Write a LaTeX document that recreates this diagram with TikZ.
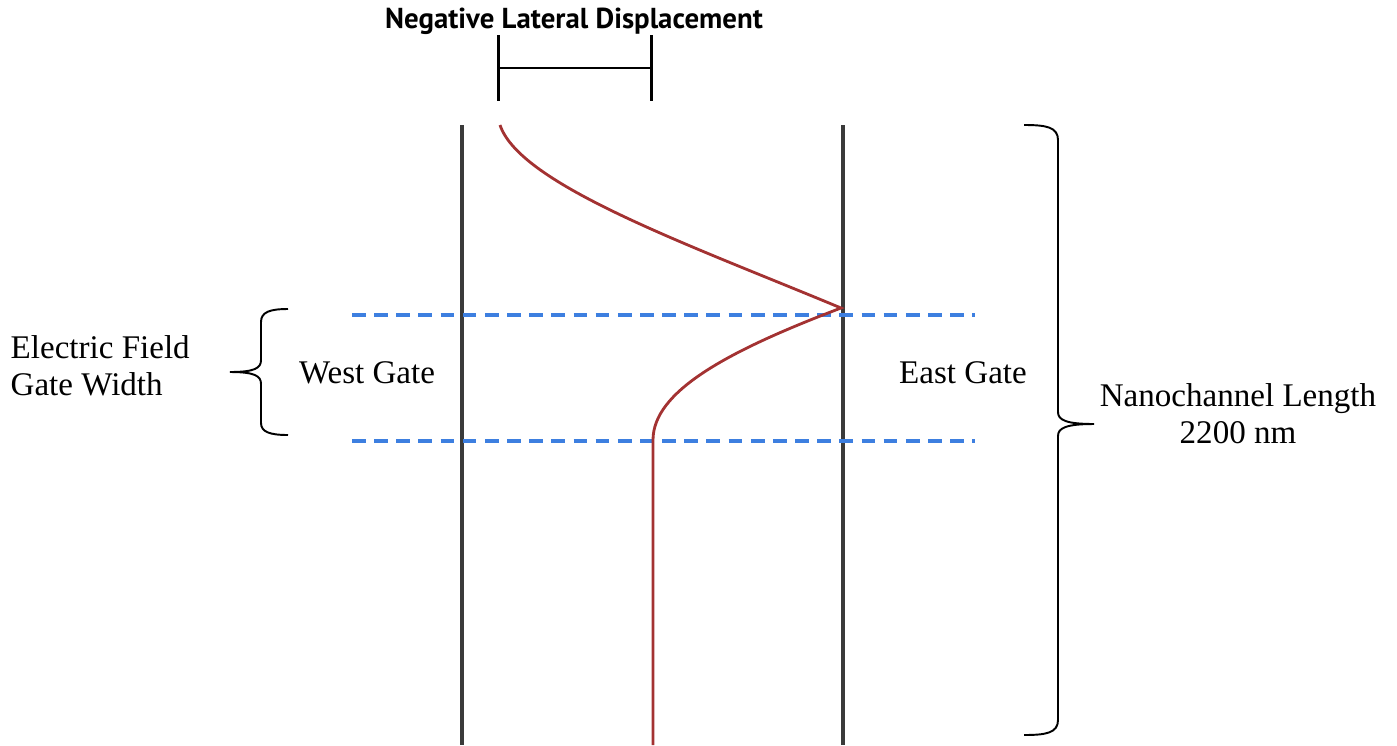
\documentclass[tikz,border=0pt]{standalone}
\usepackage{fontspec}
\setmainfont{Liberation Serif}
\newfontfamily\headfont{PT Sans}
\usetikzlibrary{positioning, calc}
\definecolor{wallgray}{HTML}{3A3A3A}
\definecolor{profred}{HTML}{A33232}
\definecolor{gateblue}{HTML}{3D7FE0}

\begin{document}
\begin{tikzpicture}[x=0.01cm, y=-0.01cm, line cap=butt,
  wall/.style={wallgray, line width=0.95pt},
  gateline/.style={gateblue, line width=1.2pt, dash pattern=on 3.9pt off 2.4pt},
  profile/.style={profred, line width=0.8pt},
  bracket/.style={black, line width=0.85pt},
  curly/.style={black, line width=0.55pt},
  lbl/.style={font=\fontsize{9.4}{10.6}\selectfont, inner sep=0pt, align=center}]

\useasboundingbox (0,0) rectangle (1397,745);

% Pareti del nanocanale
\coordinate (wtop) at (462,125);
\coordinate (wbot) at (462,745);
\coordinate (etop) at (843,125);
\coordinate (ebot) at (843,745);
\draw[wall] (wtop) -- (wbot);
\draw[wall] (etop) -- (ebot);

% Limiti del gate
\coordinate (g1l) at (352,315);
\coordinate (g1r) at (975,315);
\coordinate (g2l) at (352,441);
\coordinate (g2r) at (975,441);
\draw[gateline] (g1l) -- (g1r);
\draw[gateline] (g2l) -- (g2r);

% Profilo (rosso)
\coordinate (pstart) at (500,125);
\coordinate (ppeak) at (841,308);
\coordinate (pknee) at (653,440);
\coordinate (pend) at (653,745);
\draw[profile] (pstart) .. controls (520,185) and (690,245) .. (ppeak)
  .. controls (725,352) and (653,392) .. (pknee) -- (pend);

% Spostamento laterale
\coordinate (da) at (498,68);
\coordinate (db) at (651,68);
\draw[bracket] (da) -- (db);
\draw[bracket] ($(da)+(0,-33)$) -- ($(da)+(0,33)$);
\draw[bracket] ($(db)+(0,-33)$) -- ($(db)+(0,33)$);
\node[font=\headfont\bfseries\fontsize{8.2}{9}\selectfont, inner sep=0pt] (disp) at (574,21) {Negative Lateral Displacement};

% Graffa sinistra
\coordinate (ltip) at (230,372);
\draw[curly] (288,309) .. controls (270,309) and (261,312) .. (261,322) -- (261,360)
  .. controls (261,368) and (255,372) .. (ltip)
  .. controls (255,372) and (261,376) .. (261,384) -- (261,423)
  .. controls (261,432) and (270,435) .. (288,435);
\node[lbl, align=left, anchor=west] (efield) at (10,366) {Electric Field\\Gate Width};

% Graffa destra
\coordinate (rtip) at (1094,424);
\draw[curly] (1024,125) .. controls (1046,125) and (1058,127) .. (1058,140) -- (1058,412)
  .. controls (1058,420) and (1066,424) .. (rtip)
  .. controls (1066,424) and (1058,428) .. (1058,436) -- (1058,720)
  .. controls (1058,733) and (1046,735) .. (1024,735);
\node[lbl] (nlen) at (1238,414) {Nanochannel Length\\2200 nm};

% Etichette dei gate
\node[lbl] (west) at (367,373) {West Gate};
\node[lbl] (east) at (963,373) {East Gate};

\end{tikzpicture}
\end{document}
